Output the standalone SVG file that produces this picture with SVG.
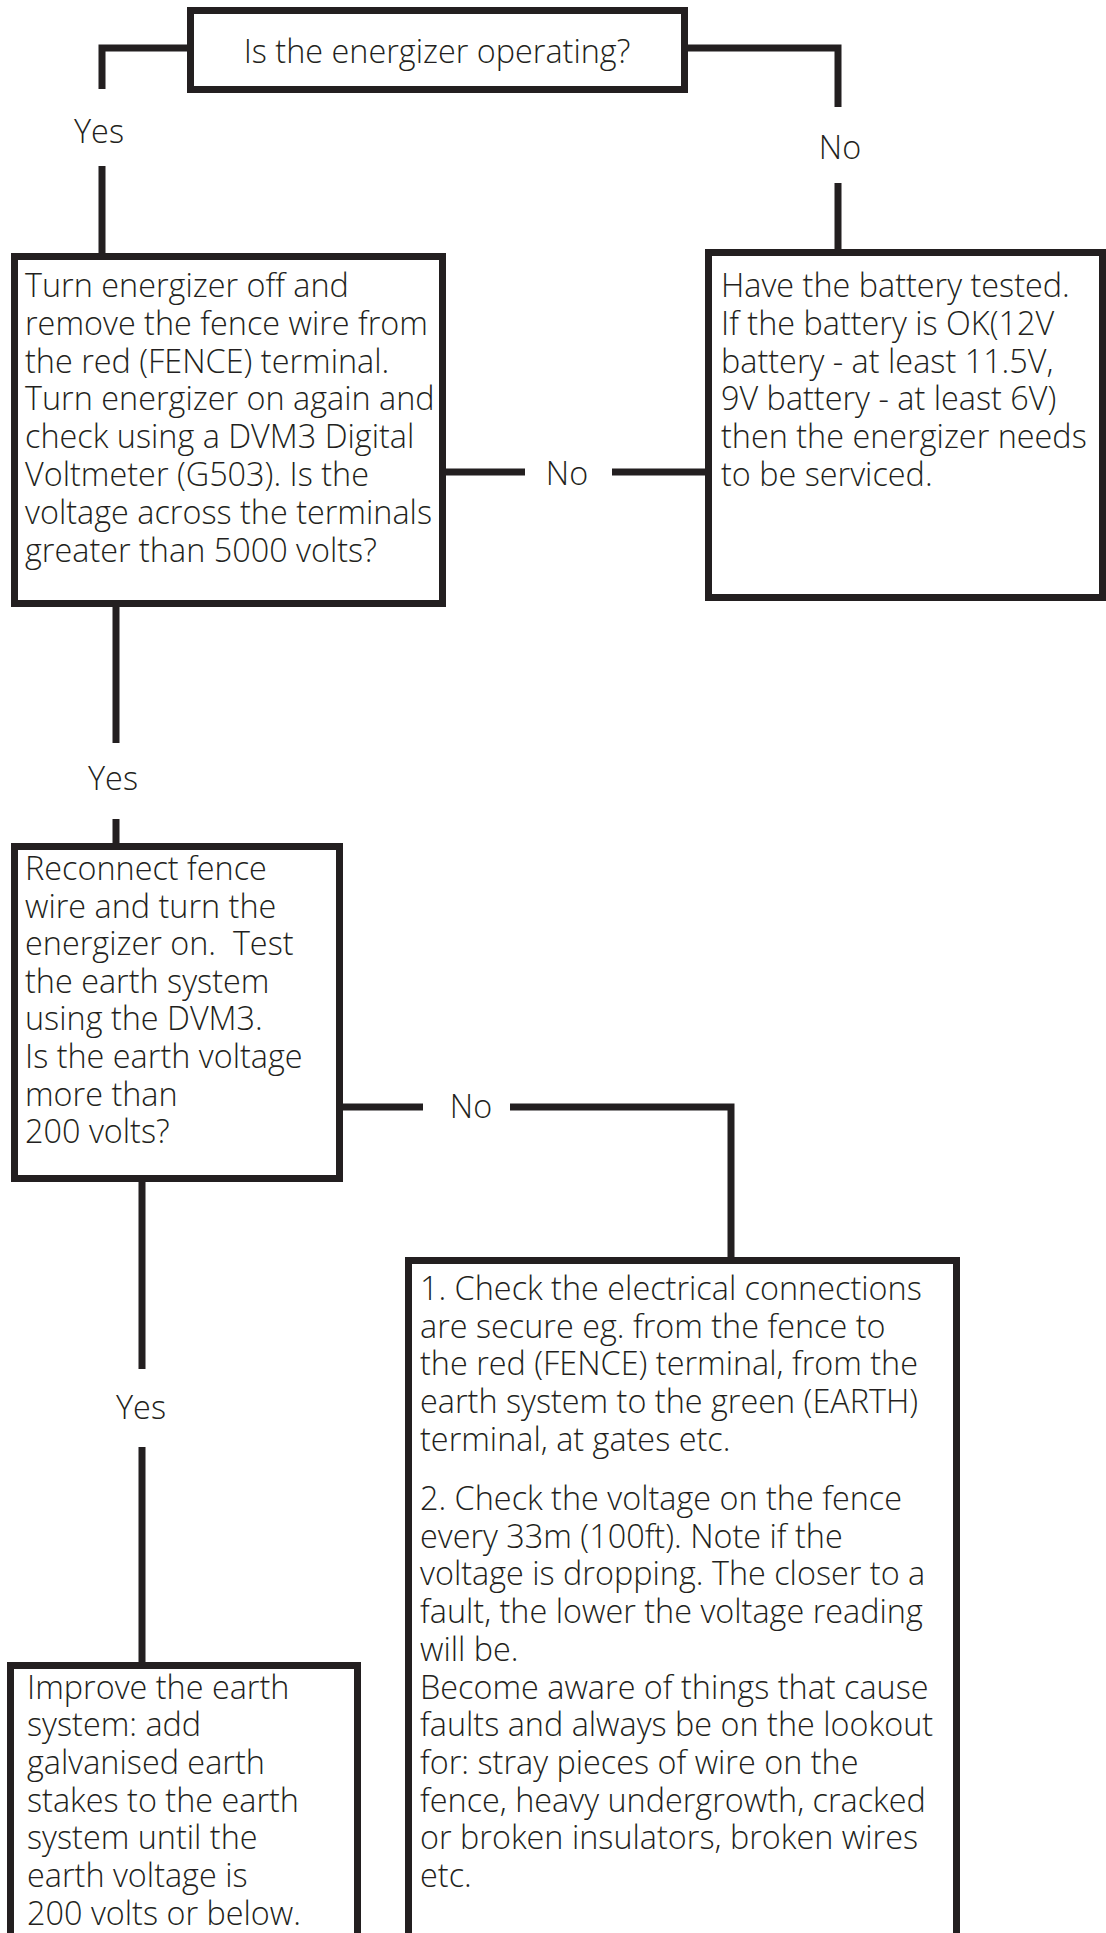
<svg xmlns="http://www.w3.org/2000/svg" width="1106" height="1933" viewBox="0 0 1106 1933">
<style>
.box{fill:#fff;stroke:#231f20;stroke-width:7}
.ln{fill:none;stroke:#231f20;stroke-width:7}
text{font-family:"Open Sans","Noto Sans","DejaVu Sans",sans-serif;font-size:32.4px;font-weight:300;fill:#231f20}
.c{text-anchor:middle}
</style>
<rect width="1106" height="1933" fill="#fff"/>
<g id="connectors">
<path class="ln" d="M190,48 H102 V89 M102,166 V253"/>
<path class="ln" d="M685,48 H838 V107 M838,183 V249"/>
<path class="ln" d="M443,472 H525 M612,472 H708"/>
<path class="ln" d="M116,604 V743 M116,819 V846"/>
<path class="ln" d="M340,1107 H423 M510,1107 H731 V1260"/>
<path class="ln" d="M142,1179 V1369 M142,1447 V1665"/>
<text class="c" x="99" y="143">Yes</text>
<text class="c" x="840" y="159">No</text>
<text class="c" x="567" y="485">No</text>
<text class="c" x="113" y="790">Yes</text>
<text class="c" x="471" y="1118">No</text>
<text class="c" x="141" y="1419">Yes</text>
</g>
<g id="n1">
<rect class="box" x="190.5" y="10.5" width="494" height="79"/>
<text class="c" x="437" y="63">Is the energizer operating?</text>
</g>
<g id="n2">
<rect class="box" x="14.5" y="256.5" width="428" height="347"/>
<text x="25">
<tspan x="25" y="297">Turn energizer off and</tspan>
<tspan x="25" y="334.8">remove the fence wire from</tspan>
<tspan x="25" y="372.6">the red (FENCE) terminal.</tspan>
<tspan x="25" y="410.4">Turn energizer on again and</tspan>
<tspan x="25" y="448.2">check using a DVM3 Digital</tspan>
<tspan x="25" y="486">Voltmeter (G503). Is the</tspan>
<tspan x="25" y="523.8">voltage across the terminals</tspan>
<tspan x="25" y="561.6">greater than 5000 volts?</tspan>
</text>
</g>
<g id="n3">
<rect class="box" x="708.5" y="252.5" width="394" height="345"/>
<text x="721">
<tspan x="721" y="297">Have the battery tested.</tspan>
<tspan x="721" y="334.8">If the battery is OK(12V</tspan>
<tspan x="721" y="372.6">battery - at least 11.5V,</tspan>
<tspan x="721" y="410.4">9V battery - at least 6V)</tspan>
<tspan x="721" y="448.2">then the energizer needs</tspan>
<tspan x="721" y="486">to be serviced.</tspan>
</text>
</g>
<g id="n4">
<rect class="box" x="14.5" y="846.5" width="325" height="332"/>
<text x="25" xml:space="preserve">
<tspan x="25" y="880">Reconnect fence</tspan>
<tspan x="25" y="917.6">wire and turn the</tspan>
<tspan x="25" y="955.2">energizer on.  Test</tspan>
<tspan x="25" y="992.8">the earth system</tspan>
<tspan x="25" y="1030.4">using the DVM3.</tspan>
<tspan x="25" y="1068">Is the earth voltage</tspan>
<tspan x="25" y="1105.6">more than</tspan>
<tspan x="25" y="1143.2">200 volts?</tspan>
</text>
</g>
<g id="n5">
<rect class="box" x="408.5" y="1260.5" width="548" height="700"/>
<text x="420">
<tspan x="420" y="1300">1. Check the electrical connections</tspan>
<tspan x="420" y="1337.7">are secure eg. from the fence to</tspan>
<tspan x="420" y="1375.4">the red (FENCE) terminal, from the</tspan>
<tspan x="420" y="1413.1">earth system to the green (EARTH)</tspan>
<tspan x="420" y="1450.8">terminal, at gates etc.</tspan>
<tspan x="420" y="1510">2. Check the voltage on the fence</tspan>
<tspan x="420" y="1547.7">every 33m (100ft). Note if the</tspan>
<tspan x="420" y="1585.4">voltage is dropping. The closer to a</tspan>
<tspan x="420" y="1623.1">fault, the lower the voltage reading</tspan>
<tspan x="420" y="1660.8">will be.</tspan>
<tspan x="420" y="1698.5">Become aware of things that cause</tspan>
<tspan x="420" y="1736.2">faults and always be on the lookout</tspan>
<tspan x="420" y="1773.9">for: stray pieces of wire on the</tspan>
<tspan x="420" y="1811.6">fence, heavy undergrowth, cracked</tspan>
<tspan x="420" y="1849.3">or broken insulators, broken wires</tspan>
<tspan x="420" y="1887">etc.</tspan>
</text>
</g>
<g id="n6">
<rect class="box" x="10.5" y="1665.5" width="347" height="300"/>
<text x="27">
<tspan x="27" y="1698.5">Improve the earth</tspan>
<tspan x="27" y="1736.2">system: add</tspan>
<tspan x="27" y="1773.9">galvanised earth</tspan>
<tspan x="27" y="1811.6">stakes to the earth</tspan>
<tspan x="27" y="1849.3">system until the</tspan>
<tspan x="27" y="1887">earth voltage is</tspan>
<tspan x="27" y="1924.7">200 volts or below.</tspan>
</text>
</g>
</svg>
